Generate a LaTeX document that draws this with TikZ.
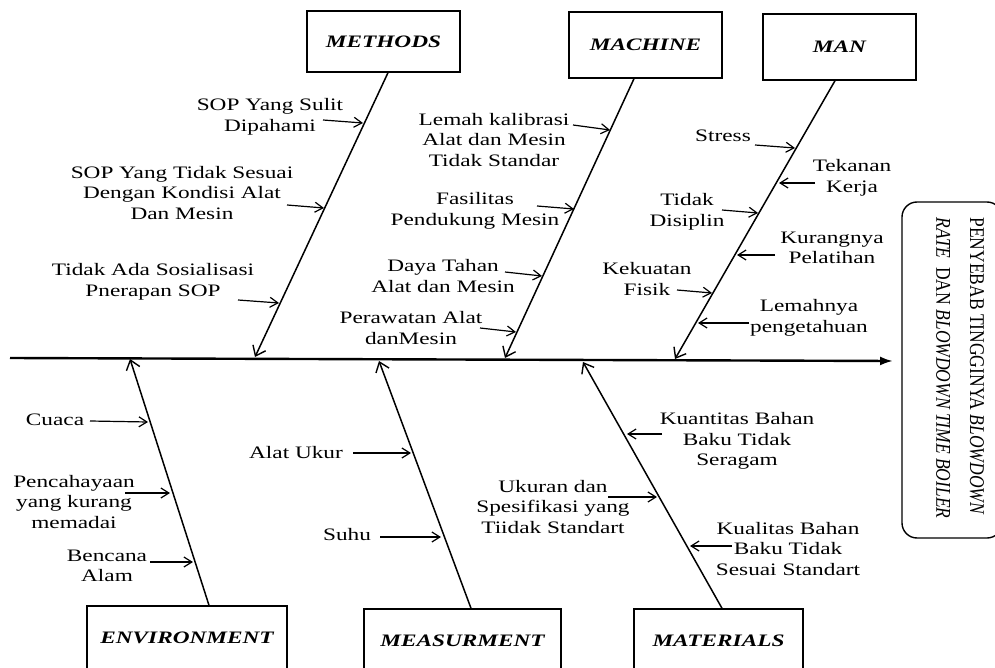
\documentclass[tikz,border=0pt]{standalone}
\usepackage{fontspec}
\setmainfont{Liberation Serif}[FakeStretch=1.33]
\newfontfamily\titlefont{Liberation Serif}
\usetikzlibrary{arrows.meta}
\begin{document}
\begin{tikzpicture}[x=1pt,y=-1pt,
  lbl/.style={align=center, inner sep=0pt, font=\fontsize{17.5}{20.5}\selectfont},
  cat/.style={draw, line width=1.4pt, inner sep=0pt, font=\fontsize{17.5}{20}\selectfont\bfseries\itshape},
  bone/.style={line width=1.5pt, -{Straight Barb[length=9pt,width=14pt,line width=1.4pt]}},
  sub/.style={line width=1.2pt, -{Straight Barb[length=8pt,width=10pt,line width=1.2pt]}},
  spine/.style={line width=2.4pt, -{Latex[length=13pt,width=9pt]}},
]
\useasboundingbox (0,0) rectangle (995,668);
\clip (0,0) rectangle (995,668);

% category boxes
\node[cat, minimum width=153pt, minimum height=61pt] (methods) at (383.5,41.5) {METHODS};
\node[cat, minimum width=153pt, minimum height=66pt] (machine) at (645.5,45) {MACHINE};
\node[cat, minimum width=153pt, minimum height=66pt] (man) at (839.5,47) {MAN};
\node[cat, minimum width=200pt, minimum height=64pt] (env) at (187,638) {ENVIRONMENT};
\node[cat, minimum width=197pt, minimum height=64pt] (meas) at (462.5,641) {MEASURMENT};
\node[cat, minimum width=169pt, minimum height=64pt] (mat) at (718.5,641) {MATERIALS};

% effect box
\node[draw, rounded corners=15pt, line width=1.4pt, minimum width=100pt, minimum height=336pt] (eff) at (952,370) {};
\node[rotate=-90, inner sep=0pt] (efftext) at (960,368)
  {\scalebox{1}[1.2]{\titlefont\fontsize{17.5}{28}\selectfont
   \begin{tabular}{@{}l@{}}PENYEBAB TINGGINYA \textit{BLOWDOWN}\\\textit{RATE}\ \ DAN \textit{BLOWDOWN TIME BOILER}\end{tabular}}};

% spine
\coordinate (spL) at (10,358);
\coordinate (spR) at (893,361);
\draw[spine] (spL) -- (spR);

% bone ends on spine
\coordinate (jm) at (255,357);
\coordinate (jc) at (505,358);
\coordinate (jn) at (675,359);
\coordinate (je) at (130,359);
\coordinate (js) at (379,361);
\coordinate (jt) at (583,362);

\draw[bone] ([xshift=4.5pt]methods.south) -- (jm);
\draw[bone] ([xshift=-11.5pt]machine.south) -- (jc);
\draw[bone] ([xshift=-4.5pt]man.south) -- (jn);
\draw[bone] ([xshift=22pt]env.north) -- (je);
\draw[bone] ([xshift=8.5pt]meas.north) -- (js);
\draw[bone] ([xshift=3.5pt]mat.north) -- (jt);

% texts
\node[lbl] (tm1) at (270,117) {SOP Yang Sulit\\Dipahami};
\node[lbl] (tm2) at (182,193) {SOP Yang Tidak Sesuai\\Dengan Kondisi Alat\\Dan Mesin};
\node[lbl] (tm3) at (153,282) {Tidak Ada Sosialisasi\\Pnerapan SOP};
\node[lbl] (tc1) at (494,140) {Lemah kalibrasi\\Alat dan Mesin\\Tidak Standar};
\node[lbl] (tc2) at (475,211) {Fasilitas\\Pendukung Mesin};
\node[lbl] (tc3) at (443,276) {Daya Tahan\\Alat dan Mesin};
\node[lbl] (tc4) at (411,328) {Perawatan Alat\\danMesin};
\node[lbl] (tn1) at (723,136) {Stress};
\node[lbl] (tn2) at (852,178) {Tekanan\\Kerja};
\node[lbl] (tn3) at (687,212) {Tidak\\Disiplin};
\node[lbl] (tn4) at (832,248) {Kurangnya\\Pelatihan};
\node[lbl] (tn5) at (647,279) {Kekuatan\\Fisik};
\node[lbl] (tn6) at (809,318) {Lemahnya\\pengetahuan};
\node[lbl] (te1) at (55,420) {Cuaca};
\node[lbl] (te2) at (74,502) {Pencahayaan\\yang kurang\\memadai};
\node[lbl] (te3) at (107,566) {Bencana\\Alam};
\node[lbl] (ts1) at (296,453) {Alat Ukur};
\node[lbl] (ts2) at (347,535) {Suhu};
\node[lbl] (tt1) at (737,441) {Kuantitas Bahan\\Baku Tidak\\Seragam};
\node[lbl] (tt2) at (553,507) {Ukuran dan\\Spesifikasi yang\\Tiidak Standart};
\node[lbl] (tt3) at (788,549) {Kualitas Bahan\\Baku Tidak\\Sesuai Standart};

% sub-arrow coordinates
\coordinate (m1s) at (323,120); \coordinate (m1e) at (363,123);
\coordinate (m2s) at (287,205); \coordinate (m2e) at (324,208);
\coordinate (m3s) at (238,300); \coordinate (m3e) at (279,303);
\coordinate (c1s) at (573,125); \coordinate (c1e) at (610,130);
\coordinate (c2s) at (537,206); \coordinate (c2e) at (574,209);
\coordinate (c3s) at (505,272); \coordinate (c3e) at (542,276);
\coordinate (c4s) at (480,328); \coordinate (c4e) at (516,332);
\coordinate (n1s) at (755,145); \coordinate (n1e) at (795,148);
\coordinate (n2s) at (815,183); \coordinate (n2e) at (779,183);
\coordinate (n3s) at (722,210); \coordinate (n3e) at (758,213);
\coordinate (n4s) at (775,255); \coordinate (n4e) at (737,255);
\coordinate (n5s) at (677,290); \coordinate (n5e) at (712,293);
\coordinate (n6s) at (749,323); \coordinate (n6e) at (698,323);
\coordinate (e1s) at (90,421);  \coordinate (e1e) at (148,422);
\coordinate (e2s) at (125,493); \coordinate (e2e) at (170,493);
\coordinate (e3s) at (150,562); \coordinate (e3e) at (193,562);
\coordinate (s1s) at (353,453); \coordinate (s1e) at (411,453);
\coordinate (s2s) at (380,537); \coordinate (s2e) at (441,537);
\coordinate (t1s) at (662,434); \coordinate (t1e) at (627,434);
\coordinate (t2s) at (608,497); \coordinate (t2e) at (657,497);
\coordinate (t3s) at (732,546); \coordinate (t3e) at (690,546);

\foreach \a in {m1,m2,m3,c1,c2,c3,c4,n1,n2,n3,n4,n5,n6,e1,e2,e3,s1,s2,t1,t2,t3}
  \draw[sub] (\a s) -- (\a e);
\end{tikzpicture}
\end{document}
